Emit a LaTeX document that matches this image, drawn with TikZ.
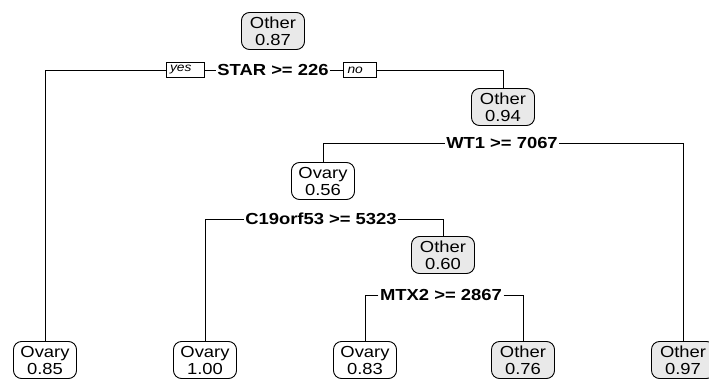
\documentclass[tikz,border=0pt]{standalone}
\usepackage{fontspec}
\setmainfont{Liberation Sans}[FakeStretch=1.15]
\begin{document}
\begin{tikzpicture}[x=1pt,y=-1pt,
  tnode/.style={draw=black,line width=0.9pt,rounded corners=8pt,align=center,
    minimum width=63pt,minimum height=37pt,inner sep=1.5pt,
    font=\fontsize{16}{17}\selectfont},
  othernode/.style={tnode,fill=gray!17},
  ovarynode/.style={tnode,fill=white},
  splitlab/.style={inner xsep=1.5pt,inner ysep=1pt,font=\fontsize{16}{17}\selectfont\bfseries},
  yn/.style={draw=black,line width=0.7pt,fill=white,inner sep=0pt,minimum height=15pt,
    text width=#1,align=left,font=\fontsize{12}{13}\selectfont\itshape},
  conn/.style={draw=black,line width=0.9pt}]
\useasboundingbox (0,0) rectangle (709,380);
\clip (0,0) rectangle (709,380);
% nodes
\node[othernode] (root) at (273,31) {Other\\0.87};
\node[splitlab] (s1) at (273,70) {STAR >= 226};
\node[yn=38pt] (yes) at (185,70) {\hspace*{4pt}yes};
\node[yn=33pt] (no) at (360,70) {\hspace*{4pt}no};
\node[othernode] (n2) at (503,107) {Other\\0.94};
\node[splitlab] (s2) at (502,143) {WT1 >= 7067};
\node[ovarynode] (n3) at (323,181) {Ovary\\0.56};
\node[splitlab] (s3) at (321,219) {C19orf53 >= 5323};
\node[othernode] (n4) at (443,255) {Other\\0.60};
\node[splitlab] (s4) at (441,295) {MTX2 >= 2867};
\node[ovarynode] (l1) at (45,360) {Ovary\\0.85};
\node[ovarynode] (l2) at (205,360) {Ovary\\1.00};
\node[ovarynode] (l3) at (365,360) {Ovary\\0.83};
\node[othernode] (l4) at (523,360) {Other\\0.76};
\node[othernode] (l5) at (683,360) {Other\\0.97};
% connectors
\draw[conn] (s1.west) -- (yes.east);
\draw[conn] (yes.west) -| (l1.north);
\draw[conn] (s1.east) -- (no.west);
\draw[conn] (no.east) -| (n2.north);
\draw[conn] (s2.west) -| (n3.north);
\draw[conn] (s2.east) -| (l5.north);
\draw[conn] (s3.west) -| (l2.north);
\draw[conn] (s3.east) -| (n4.north);
\draw[conn] (s4.west) -| (l3.north);
\draw[conn] (s4.east) -| (l4.north);
\end{tikzpicture}
\end{document}
